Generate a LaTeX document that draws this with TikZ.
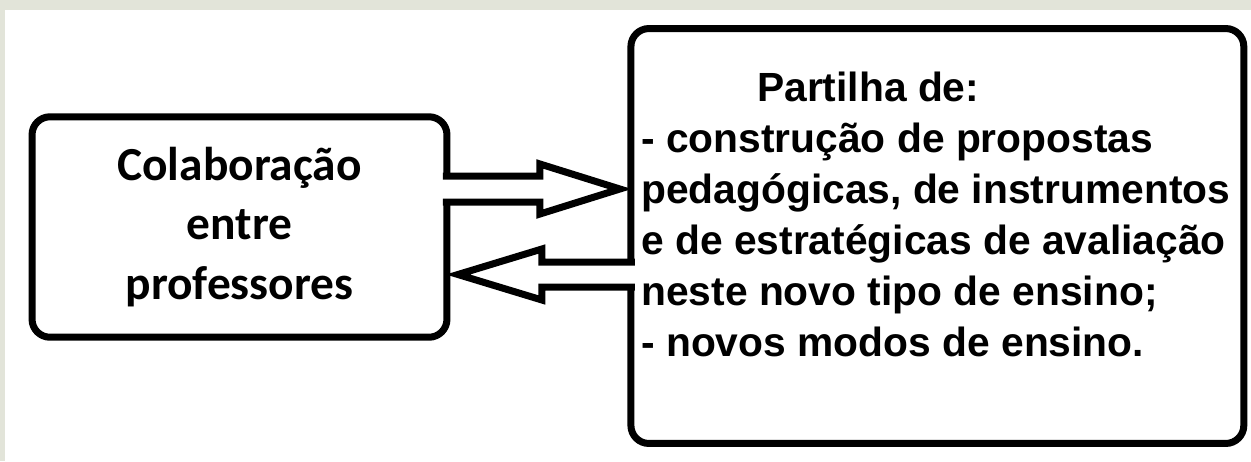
\documentclass[tikz,border=0pt]{standalone}
\usepackage{fontspec}
\setmainfont{Liberation Sans}
\newfontfamily\calibrifont{Carlito}
\usetikzlibrary{positioning, calc}
\definecolor{framegray}{HTML}{E2E4D9}

\begin{document}
\begin{tikzpicture}[
        x=0.02cm,
        y=-0.02cm,
        % Styles
        roundbox/.style={
            rectangle,
            draw=black,
            line width=0.14cm,
            fill=white,
            rounded corners=0.36cm,
            outer sep=0pt,
            inner sep=0pt
          },
        smallbox/.style={
            roundbox,
            minimum width=8.3cm,
            minimum height=4.41cm,
            align=center,
            font=\calibrifont\bfseries\fontsize{27pt}{34pt}\selectfont
          },
        bigbox/.style={
            roundbox,
            minimum width=12.26cm,
            minimum height=8.3cm
          },
        listtext/.style={
            align=left,
            inner sep=0pt,
            font=\bfseries\fontsize{23.2pt}{29pt}\selectfont
          },
        fatarrow/.style={
            draw=black,
            fill=white,
            line width=0.14cm
          }
      ]
      % Frame
      \useasboundingbox (0,0) rectangle (1251,461);
      \fill[framegray] (0,0) rectangle (1251,461);
      \fill[white] (5,10) rectangle (1251,461);

      % Nodes
      % Collaboration (Left)
      \node[smallbox] (collab) at (239.5,227) {Colaboração\\entre\\professores};

      % Sharing (Right)
      \node[bigbox, right=3.68cm of collab, yshift=-0.18cm] (partilha) {};

      % Arrows (both ways)
      \draw[fatarrow] ($(collab.east)+(-4,-51)$) -- ($(collab.east)+(93,-51)$)
        -- ($(collab.east)+(93,-63)$) -- ($(partilha.west)+(-11,-47)$)
        -- ($(collab.east)+(93,-13)$) -- ($(collab.east)+(93,-25)$)
        -- ($(collab.east)+(-4,-25)$);
      \draw[fatarrow] ($(partilha.west)+(4,26)$) -- ($(partilha.west)+(-89,26)$)
        -- ($(partilha.west)+(-89,13)$) -- ($(collab.east)+(11,47.5)$)
        -- ($(partilha.west)+(-89,64)$) -- ($(partilha.west)+(-89,51)$)
        -- ($(partilha.west)+(4,51)$);

      % Text of the right box
      \node[listtext, anchor=north west] (lista) at ($(partilha.north west)+(10,43)$)
        {\hspace*{2.32cm}Partilha de:\\
         - construção de propostas\\
         pedagógicas, de instrumentos\\
         e de estratégicas de avaliação\\
         neste novo tipo de ensino;\\
         - novos modos de ensino.};

    \end{tikzpicture}
\end{document}
